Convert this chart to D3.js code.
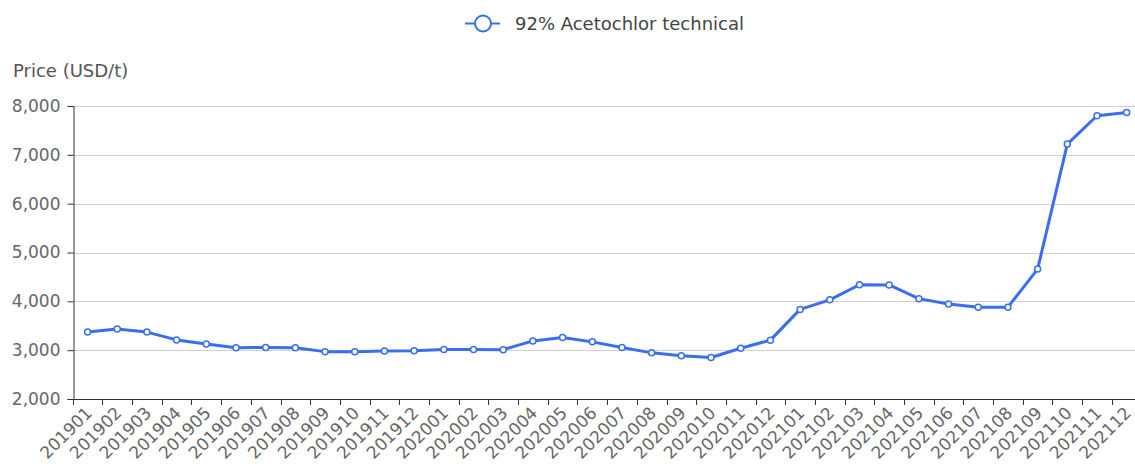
<!DOCTYPE html>
<html><head><meta charset="utf-8">
<script src="https://cdn.jsdelivr.net/npm/d3@7"></script>
<style>
html,body{margin:0;padding:0;background:#fff;overflow:hidden}
svg{display:block}
text{font-family:"DejaVu Sans","Noto Sans",sans-serif}
</style></head>
<body>
<script>
const categories = ["201901","201902","201903","201904","201905","201906","201907","201908","201909","201910","201911","201912",
"202001","202002","202003","202004","202005","202006","202007","202008","202009","202010","202011","202012",
"202101","202102","202103","202104","202105","202106","202107","202108","202109","202110","202111","202112"];
const prices = [3370,3435,3370,3210,3125,3050,3055,3050,2970,2970,2985,2990,
3015,3015,3010,3190,3260,3170,3055,2945,2885,2850,3040,3205,
3835,4030,4340,4335,4055,3945,3880,3880,4660,7220,7800,7865];
const yTicks = [2000,3000,4000,5000,6000,7000,8000];
const seriesName = "92% Acetochlor technical";
const yTitle = "Price (USD/t)";

const W = 1135, H = 464;
const color = "#3a6ef0";
const svg = d3.select("body").append("svg").attr("width", W).attr("height", H);

const x = d3.scaleBand().domain(categories).range([72.7, 72.7 + 36 * 29.69]);
const y = d3.scaleLinear().domain([2000, 8000]).range([399, 106]);

// gridlines
svg.append("g").selectAll("line").data(yTicks.slice(1)).join("line")
  .attr("x1", 73).attr("x2", 1142)
  .attr("y1", d => Math.round(y(d)) + 0.5).attr("y2", d => Math.round(y(d)) + 0.5)
  .attr("stroke", "#d0d0d0").attr("stroke-width", 1);

// y axis
const yAxis = svg.append("g").attr("transform", "translate(73.5,0)")
  .call(d3.axisLeft(y).tickValues(yTicks).tickFormat(d3.format(",")).tickSize(6).tickPadding(7));
yAxis.select(".domain").attr("stroke", "#333");
yAxis.selectAll(".tick line").attr("stroke", "#333");
yAxis.selectAll(".tick text").attr("fill", "#666").style("font-size", "17px");

// x axis
const xAxis = svg.append("g").attr("transform", "translate(0,399.5)")
  .call(d3.axisBottom(x).tickSize(0).tickPadding(0));
xAxis.select(".domain").attr("stroke", "#333").attr("d", "M72.7,0H1142");
xAxis.selectAll(".tick line").remove();
xAxis.selectAll(".tick text")
  .attr("fill", "#666").style("font-size", "17px")
  .attr("text-anchor", "end")
  .attr("dy", null)
  .attr("transform", "translate(2,11) rotate(-45)")
  .attr("y", 0).attr("x", 0).attr("dominant-baseline", "middle");
// boundary ticks
svg.append("g").selectAll("line").data(categories).join("line")
  .attr("x1", d => Math.round(x(d)) + 0.5).attr("x2", d => Math.round(x(d)) + 0.5)
  .attr("y1", 399).attr("y2", 405).attr("stroke", "#333");

// y title
svg.append("text").attr("x", 13).attr("y", 77).attr("fill", "#555")
  .style("font-size", "18px").text(yTitle);

// line
const line = d3.line().x((d, i) => x(categories[i]) + x.bandwidth() / 2).y(d => y(d));
svg.append("path").datum(prices).attr("d", line)
  .attr("fill", "none").attr("stroke", color).attr("stroke-width", 3).attr("stroke-linejoin", "round");
svg.append("g").selectAll("circle").data(prices).join("circle")
  .attr("cx", (d, i) => x(categories[i]) + x.bandwidth() / 2).attr("cy", d => y(d))
  .attr("r", 3).attr("fill", "#fff").attr("stroke", color).attr("stroke-width", 1.5);

// legend
const lg = svg.append("g");
lg.append("line").attr("x1", 465).attr("x2", 500).attr("y1", 23.5).attr("y2", 23.5)
  .attr("stroke", color).attr("stroke-width", 2);
lg.append("circle").attr("cx", 483).attr("cy", 23.5).attr("r", 8)
  .attr("fill", "#fff").attr("stroke", color).attr("stroke-width", 2);
lg.append("text").attr("x", 515).attr("y", 30).attr("fill", "#444")
  .style("font-size", "18px").text(seriesName);
</script>
</body></html>
